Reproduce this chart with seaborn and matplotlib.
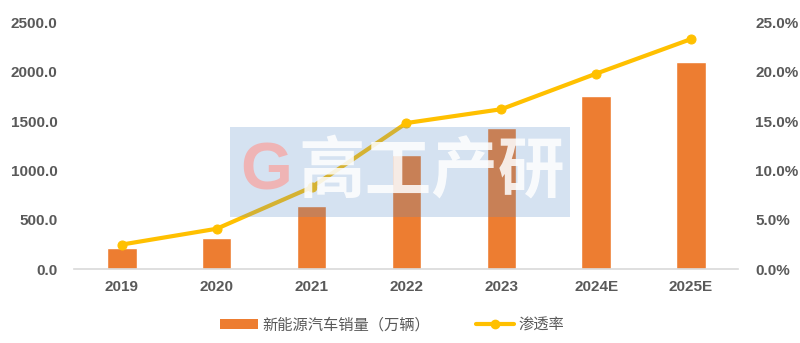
import matplotlib
matplotlib.use("Agg")
import matplotlib.pyplot as plt
import seaborn as sns
import pandas as pd
from matplotlib.patches import Patch, Rectangle
from matplotlib.lines import Line2D
from matplotlib.ticker import FuncFormatter

years = ["2019", "2020", "2021", "2022", "2023", "2024E", "2025E"]
sales = [220, 318, 642, 1156, 1430, 1754, 2100]
penetration = [2.5, 4.1, 8.3, 14.8, 16.2, 19.8, 23.3]

bar_label = "新能源汽车销量（万辆）"
line_label = "渗透率"

sns.set_theme(style="white")
plt.rcParams["font.family"] = ["Liberation Sans", "Noto Sans CJK SC", "DejaVu Sans"]

df = pd.DataFrame({"year": years, "sales": sales, "pen": penetration})

fig = plt.figure(figsize=(8, 3.43), dpi=100)
ax = fig.add_axes([0.093, 0.215, 0.830, 0.72])
ax2 = ax.twinx()

bar_color = "#ED7D31"
line_color = "#FFC000"
txt = "#595959"

sns.barplot(data=df, x="year", y="sales", color=bar_color, width=0.31,
            saturation=1, ax=ax, zorder=2)
sns.lineplot(data=df, x="year", y="pen", color=line_color, linewidth=3.0,
             marker="o", markersize=6.5, markeredgecolor=line_color, ax=ax2, zorder=3)

ax.set_ylim(0, 2500)
ax.set_yticks([0, 500, 1000, 1500, 2000, 2500])
ax.yaxis.set_major_formatter(FuncFormatter(lambda v, p: f"{v:.1f}"))
ax2.set_ylim(0, 25)
ax2.set_yticks([0, 5, 10, 15, 20, 25])
ax2.yaxis.set_major_formatter(FuncFormatter(lambda v, p: f"{v:.1f}%"))
ax.set_xlim(-0.5, 6.5)

for a in (ax, ax2):
    a.set_xlabel("")
    a.set_ylabel("")
    for s in a.spines.values():
        s.set_visible(False)
    a.grid(False)
ax.spines["bottom"].set_visible(True)
ax.spines["bottom"].set_color("#D9D9D9")
ax.spines["bottom"].set_linewidth(1.2)

ax.tick_params(axis="y", length=0, pad=12, labelsize=11, labelcolor=txt)
ax.tick_params(axis="x", length=0, pad=8, labelsize=11, labelcolor=txt)
ax2.tick_params(axis="y", length=0, pad=12, labelsize=11, labelcolor=txt)
for lab in ax.get_yticklabels() + ax.get_xticklabels() + ax2.get_yticklabels():
    lab.set_fontweight("bold")

# watermark overlay
fig.patches.append(Rectangle((230 / 800, 1 - 217 / 343), 340 / 800, 90 / 343,
                             transform=fig.transFigure, facecolor="#5B8CC8",
                             alpha=0.25, edgecolor="none", zorder=10))
fig.text(266 / 800, 1 - 172 / 343, "G", fontsize=48, fontweight="bold",
         color="#F2AFAF", alpha=0.9, ha="center", va="center", zorder=11)
fig.text(432 / 800, 1 - 172 / 343, "高工产研", fontsize=48, fontweight="bold",
         color="white", alpha=0.85, ha="center", va="center", zorder=11,
         family=["Noto Sans CJK SC", "DejaVu Sans"])

handles = [Patch(facecolor=bar_color, edgecolor="none"),
           Line2D([0], [0], color=line_color, linewidth=3.0, marker="o",
                  markersize=6, markeredgecolor=line_color)]
leg = fig.legend(handles, [bar_label, line_label], loc="center",
                 bbox_to_anchor=(0.49, 1 - 325 / 343), ncol=2, frameon=False,
                 handlelength=2.5, handleheight=0.6, columnspacing=3.0,
                 handletextpad=0.3,
                 prop={"family": ["Noto Sans CJK SC", "DejaVu Sans"], "size": 11})
for t in leg.get_texts():
    t.set_color(txt)

fig.savefig("out.png", dpi=100)
